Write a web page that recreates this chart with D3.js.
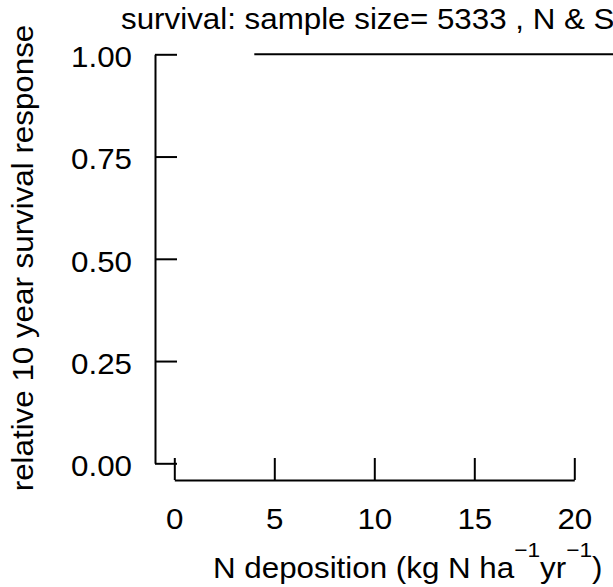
<!DOCTYPE html>
<html>
<head>
<meta charset="utf-8">
<script src="https://cdn.jsdelivr.net/npm/d3@7"></script>
<style>
  html, body { margin: 0; padding: 0; background: #fff; }
  svg text { font-family: "Liberation Sans", Arial, Helvetica, sans-serif; fill: #000; }
</style>
</head>
<body>
<div id="chart"></div>
<script>
// Data
const nDep = [4, 10, 20, 30];          // N deposition (kg N / ha / yr)
const survival = [1, 1, 1, 1];         // relative 10 year survival response
const xTicks = [0, 5, 10, 15, 20];
const yTicks = [0, 0.25, 0.5, 0.75, 1];
const yTickLabels = ["0.00", "0.25", "0.50", "0.75", "1.00"];
const titleText = "survival: sample size= 5333 , N & S";

// Dimensions
const width = 613;
const height = 587;
const fontSize = 29;
const stretch = 1.08;   // glyphs in the picture are a bit wider than Liberation Sans

const x = d3.scaleLinear().domain([0, 20]).range([174.3, 574.3]);
const y = d3.scaleLinear().domain([0, 1]).range([463.3, 54.3]);

const svg = d3.select("#chart").append("svg")
    .attr("width", width)
    .attr("height", height)
    .attr("viewBox", [0, 0, width, height]);

// Title (clipped at the right edge like the original)
svg.append("text")
    .attr("class", "stretch")
    .attr("x", 121)
    .attr("y", 29)
    .style("font-size", fontSize + "px")
    .text(titleText);

// Y axis (ticks pointing inward)
const yAxis = svg.append("g")
    .attr("transform", "translate(155,0)")
    .call(d3.axisLeft(y).tickValues(yTicks).tickSizeInner(-22).tickSizeOuter(0)
      .tickFormat((d, i) => yTickLabels[i]));
yAxis.select(".domain").attr("stroke", "#000").attr("stroke-width", 2);
yAxis.selectAll(".tick line").attr("stroke", "#000").attr("stroke-width", 2);
yAxis.selectAll(".tick text")
    .attr("class", "stretch")
    .attr("x", -23)
    .attr("dy", null)
    .attr("y", 12.4)
    .attr("text-anchor", "end")
    .style("font-size", fontSize + "px");

// X axis (ticks pointing up)
const xAxis = svg.append("g")
    .attr("transform", "translate(0,480)")
    .call(d3.axisBottom(x).tickValues(xTicks).tickSizeInner(-22).tickSizeOuter(0));
xAxis.select(".domain").attr("stroke", "#000").attr("stroke-width", 2);
xAxis.selectAll(".tick line").attr("stroke", "#000").attr("stroke-width", 2);
xAxis.selectAll(".tick text")
    .attr("class", "stretch")
    .attr("y", 49)
    .attr("dy", null)
    .attr("text-anchor", "middle")
    .style("font-size", fontSize + "px");

// Survival response line
const line = d3.line()
    .x((d, i) => x(nDep[i]))
    .y(d => y(d));

svg.append("path")
    .datum(survival)
    .attr("fill", "none")
    .attr("stroke", "#000")
    .attr("stroke-width", 2)
    .attr("d", line);

// Y axis label
svg.append("text")
    .attr("class", "stretch")
    .attr("transform", "translate(33,258) rotate(-90)")
    .attr("text-anchor", "middle")
    .style("font-size", fontSize + "px")
    .text("relative 10 year survival response");

// X axis label with superscripts
const xLab = svg.append("text")
    .attr("x", 213)
    .attr("y", 578)
    .style("font-size", fontSize + "px");
xLab.append("tspan").attr("class", "stretch-span").text("N deposition (kg N ha");
xLab.append("tspan").attr("class", "stretch-span").attr("dy", -21).style("font-size", "21px").text("\u22121");
xLab.append("tspan").attr("class", "stretch-span").attr("dy", 21).text("yr");
xLab.append("tspan").attr("class", "stretch-span").attr("dy", -21).style("font-size", "21px").text("\u22121");
xLab.append("tspan").attr("class", "stretch-span").attr("dy", 21).text(")");

// Widen the glyphs a little to match the reference
svg.selectAll("text.stretch").each(function() {
  const len = this.getComputedTextLength();
  d3.select(this).attr("textLength", len * stretch).attr("lengthAdjust", "spacingAndGlyphs");
});
svg.selectAll("tspan.stretch-span").each(function() {
  const len = this.getComputedTextLength();
  d3.select(this).attr("textLength", len * stretch).attr("lengthAdjust", "spacingAndGlyphs");
});
</script>
</body>
</html>
